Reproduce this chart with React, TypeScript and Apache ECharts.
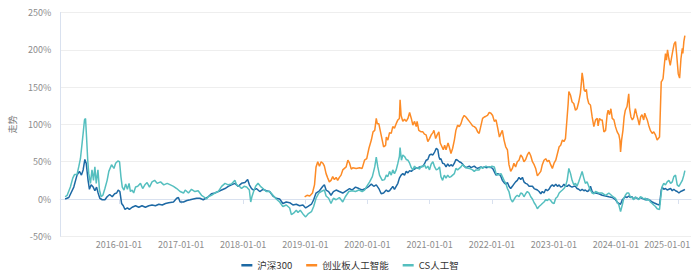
import React, { useEffect, useRef } from "react";
import * as echarts from "echarts";

const seriesNames = ["沪深300", "创业板人工智能", "CS人工智"];
const seriesColors = ["#1d69a4", "#fd8b26", "#55bfbf"];

const tickDates = [
  "2016-01-01", "2017-01-01", "2018-01-01", "2019-01-01", "2020-01-01",
  "2021-01-01", "2022-01-01", "2023-01-01", "2024-01-01", "2025-01-01",
];

const axisMinDate = "2015-01-21";
const axisMaxDate = "2025-03-17";

const hs300: [string, number][] = [
  ["2015-02-19", 0], ["2015-03-13", 2], ["2015-04-11", 16], ["2015-04-30", 32], ["2015-05-14", 37],
  ["2015-05-26", 32], ["2015-06-05", 39], ["2015-06-15", 53], ["2015-06-23", 48], ["2015-07-04", 25],
  ["2015-07-12", 13], ["2015-07-22", 19], ["2015-08-03", 16], ["2015-08-13", 11], ["2015-08-23", 16],
  ["2015-09-01", 8], ["2015-09-11", 1], ["2015-09-25", -1], ["2015-10-11", -1], ["2015-10-24", 3],
  ["2015-11-08", 6], ["2015-11-23", 3], ["2015-12-07", 7], ["2015-12-19", 8], ["2015-12-28", 12],
  ["2016-01-07", 10], ["2016-01-17", -6], ["2016-01-27", -9], ["2016-02-06", -14], ["2016-02-20", -12],
  ["2016-03-03", -14], ["2016-03-19", -11], ["2016-04-08", -9], ["2016-04-27", -11], ["2016-05-16", -9],
  ["2016-06-05", -11], ["2016-06-25", -9], ["2016-07-14", -8], ["2016-08-03", -9], ["2016-08-23", -7],
  ["2016-09-12", -8], ["2016-10-01", -6], ["2016-10-20", -5], ["2016-11-17", -4], ["2016-12-06", 1],
  ["2016-12-16", 2], ["2016-12-26", -4], ["2017-01-15", -4], ["2017-02-04", -2], ["2017-02-23", -1],
  ["2017-03-13", 0], ["2017-04-02", 1], ["2017-04-21", 1], ["2017-05-11", -1], ["2017-05-26", 1],
  ["2017-06-09", 3], ["2017-06-28", 7], ["2017-07-18", 8], ["2017-08-07", 10], ["2017-08-27", 12],
  ["2017-09-16", 14], ["2017-10-05", 17], ["2017-10-24", 19], ["2017-11-13", 21], ["2017-12-03", 17],
  ["2017-12-22", 21], ["2018-01-11", 22], ["2018-01-27", 26], ["2018-02-06", 19], ["2018-02-19", 14],
  ["2018-03-03", 12], ["2018-03-19", 14], ["2018-04-08", 10], ["2018-04-27", 13], ["2018-05-16", 11],
  ["2018-06-05", 10], ["2018-06-25", 4], ["2018-07-14", 1], ["2018-08-03", 0], ["2018-08-22", -6],
  ["2018-09-11", -4], ["2018-10-01", -5], ["2018-10-20", -8], ["2018-11-09", -7], ["2018-11-28", -9],
  ["2018-12-18", -8], ["2019-01-03", -12], ["2019-01-17", -10], ["2019-02-06", -7], ["2019-02-19", -1],
  ["2019-03-05", 8], ["2019-03-25", 11], ["2019-04-14", 17], ["2019-04-23", 19], ["2019-05-03", 12],
  ["2019-05-18", 10], ["2019-06-01", 5], ["2019-06-15", 10], ["2019-07-01", 12], ["2019-07-20", 10],
  ["2019-08-09", 8], ["2019-08-29", 11], ["2019-09-18", 14], ["2019-10-03", 12], ["2019-10-23", 16],
  ["2019-11-12", 14], ["2019-12-01", 12], ["2019-12-21", 14], ["2020-01-10", 17], ["2020-01-24", 20],
  ["2020-02-07", 17], ["2020-02-22", 19], ["2020-03-08", 14], ["2020-03-22", 7], ["2020-04-05", 8],
  ["2020-04-21", 12], ["2020-04-30", 10], ["2020-05-10", 11], ["2020-05-20", 14], ["2020-05-29", 17],
  ["2020-06-08", 13], ["2020-06-18", 17], ["2020-06-28", 21], ["2020-07-07", 28], ["2020-07-17", 32],
  ["2020-07-27", 34], ["2020-08-06", 32], ["2020-08-16", 37], ["2020-08-26", 35], ["2020-09-05", 38],
  ["2020-09-15", 37], ["2020-09-24", 39], ["2020-10-04", 40], ["2020-10-14", 42], ["2020-10-23", 41],
  ["2020-11-02", 43], ["2020-11-12", 43], ["2020-11-22", 44], ["2020-12-01", 47], ["2020-12-11", 52],
  ["2020-12-21", 53], ["2020-12-31", 59], ["2021-01-10", 60], ["2021-01-20", 59], ["2021-01-30", 63],
  ["2021-02-09", 68], ["2021-02-18", 66], ["2021-02-24", 57], ["2021-03-02", 53], ["2021-03-08", 54],
  ["2021-03-18", 48], ["2021-03-28", 47], ["2021-04-07", 43], ["2021-04-17", 47], ["2021-04-27", 44],
  ["2021-05-06", 46], ["2021-05-16", 44], ["2021-05-26", 48], ["2021-06-04", 53], ["2021-06-14", 52],
  ["2021-06-24", 50], ["2021-07-04", 49], ["2021-07-13", 47], ["2021-07-23", 44], ["2021-08-02", 42],
  ["2021-08-12", 43], ["2021-08-22", 44], ["2021-09-01", 42], ["2021-09-10", 43], ["2021-09-20", 44],
  ["2021-09-30", 42], ["2021-10-10", 41], ["2021-10-19", 42], ["2021-10-29", 43], ["2021-11-08", 42],
  ["2021-11-18", 43], ["2021-11-28", 42], ["2021-12-17", 43], ["2022-01-06", 41], ["2022-01-26", 32],
  ["2022-02-05", 34], ["2022-02-15", 33], ["2022-02-24", 30], ["2022-03-04", 25], ["2022-03-14", 22],
  ["2022-03-24", 20], ["2022-04-03", 22], ["2022-04-12", 17], ["2022-04-22", 14], ["2022-05-02", 17],
  ["2022-05-11", 20], ["2022-05-21", 23], ["2022-05-31", 25], ["2022-06-10", 29], ["2022-06-20", 26],
  ["2022-06-30", 29], ["2022-07-09", 23], ["2022-07-19", 21], ["2022-07-29", 20], ["2022-08-08", 17],
  ["2022-08-18", 17], ["2022-08-28", 17], ["2022-09-07", 14], ["2022-09-16", 13], ["2022-09-26", 12],
  ["2022-10-06", 10], ["2022-10-16", 7], ["2022-10-25", 10], ["2022-11-04", 8], ["2022-11-14", 13],
  ["2022-11-24", 11], ["2022-12-03", 13], ["2022-12-13", 17], ["2022-12-23", 19], ["2023-01-02", 17],
  ["2023-01-12", 20], ["2023-01-22", 17], ["2023-02-01", 19], ["2023-02-10", 16], ["2023-02-20", 17],
  ["2023-03-01", 20], ["2023-03-10", 17], ["2023-03-20", 17], ["2023-03-30", 19], ["2023-04-09", 17],
  ["2023-04-18", 16], ["2023-04-28", 17], ["2023-05-08", 17], ["2023-05-17", 14], ["2023-05-27", 13],
  ["2023-06-06", 11], ["2023-06-16", 13], ["2023-06-26", 11], ["2023-07-05", 12], ["2023-07-15", 10],
  ["2023-07-25", 11], ["2023-08-04", 17], ["2023-08-14", 10], ["2023-08-24", 8], ["2023-09-03", 8],
  ["2023-09-22", 7], ["2023-10-12", 5], ["2023-11-01", 4], ["2023-11-20", 3], ["2023-12-10", 2],
  ["2023-12-29", -1], ["2024-01-08", -4], ["2024-01-18", -6], ["2024-01-28", -7], ["2024-02-07", -1],
  ["2024-02-16", 1], ["2024-02-25", 3], ["2024-03-06", 2], ["2024-03-16", 4], ["2024-03-25", 2],
  ["2024-04-04", 3], ["2024-04-14", 0], ["2024-04-24", 2], ["2024-05-04", 1], ["2024-05-14", 0],
  ["2024-05-23", 2], ["2024-06-02", 1], ["2024-06-12", 0], ["2024-06-22", -1], ["2024-07-01", 0],
  ["2024-07-11", -1], ["2024-07-21", -2], ["2024-08-01", -4], ["2024-08-10", -5], ["2024-08-20", -6],
  ["2024-08-30", -7], ["2024-09-13", -8], ["2024-09-23", 12], ["2024-09-29", 16], ["2024-10-08", 13],
  ["2024-10-18", 14], ["2024-10-28", 12], ["2024-11-07", 13], ["2024-11-17", 14], ["2024-11-27", 11],
  ["2024-12-06", 13], ["2024-12-16", 11], ["2024-12-26", 10], ["2025-01-05", 8], ["2025-01-15", 10],
  ["2025-01-25", 11], ["2025-02-03", 12], ["2025-02-09", 13],
];

const cybAI: [string, number][] = [
  ["2018-12-28", 3], ["2019-01-11", 5], ["2019-01-27", 4], ["2019-02-12", 8], ["2019-02-24", 19],
  ["2019-03-05", 43], ["2019-03-15", 50], ["2019-03-25", 44], ["2019-04-04", 50], ["2019-04-14", 48],
  ["2019-04-23", 44], ["2019-05-03", 34], ["2019-05-13", 28], ["2019-05-22", 23], ["2019-06-01", 25],
  ["2019-06-11", 30], ["2019-06-21", 26], ["2019-07-01", 29], ["2019-07-10", 25], ["2019-07-20", 29],
  ["2019-07-30", 32], ["2019-08-09", 39], ["2019-08-19", 41], ["2019-08-29", 43], ["2019-09-08", 52],
  ["2019-09-18", 48], ["2019-09-28", 40], ["2019-10-07", 42], ["2019-10-27", 41], ["2019-11-16", 42],
  ["2019-12-01", 41], ["2019-12-15", 52], ["2019-12-28", 54], ["2020-01-10", 68], ["2020-01-24", 79],
  ["2020-02-03", 90], ["2020-02-13", 92], ["2020-02-22", 108], ["2020-02-28", 101], ["2020-03-08", 101],
  ["2020-03-16", 92], ["2020-03-28", 79], ["2020-04-05", 70], ["2020-04-17", 72], ["2020-04-21", 83],
  ["2020-04-30", 79], ["2020-05-10", 89], ["2020-05-20", 88], ["2020-05-29", 97], ["2020-06-08", 95],
  ["2020-06-18", 101], ["2020-06-28", 106], ["2020-07-07", 108], ["2020-07-11", 133], ["2020-07-17", 112],
  ["2020-07-27", 104], ["2020-08-06", 107], ["2020-08-16", 104], ["2020-08-26", 108], ["2020-09-05", 116],
  ["2020-09-15", 108], ["2020-09-24", 99], ["2020-10-04", 104], ["2020-10-14", 97], ["2020-10-19", 104],
  ["2020-10-29", 92], ["2020-11-12", 90], ["2020-11-22", 90], ["2020-12-01", 87], ["2020-12-11", 86],
  ["2020-12-21", 77], ["2020-12-31", 81], ["2021-01-10", 86], ["2021-01-20", 89], ["2021-01-26", 92],
  ["2021-02-05", 81], ["2021-02-14", 86], ["2021-02-24", 90], ["2021-03-04", 75], ["2021-03-14", 70],
  ["2021-03-22", 66], ["2021-03-30", 72], ["2021-04-07", 66], ["2021-04-19", 75], ["2021-04-27", 69],
  ["2021-05-06", 61], ["2021-05-16", 68], ["2021-05-26", 79], ["2021-06-04", 92], ["2021-06-14", 99],
  ["2021-06-24", 97], ["2021-07-04", 101], ["2021-07-13", 108], ["2021-07-23", 112], ["2021-08-02", 110],
  ["2021-08-12", 107], ["2021-08-22", 104], ["2021-09-01", 101], ["2021-09-10", 98], ["2021-09-20", 97],
  ["2021-09-30", 95], ["2021-10-10", 90], ["2021-10-19", 88], ["2021-10-29", 98], ["2021-11-08", 108],
  ["2021-11-18", 110], ["2021-11-28", 111], ["2021-12-07", 112], ["2021-12-17", 116], ["2021-12-27", 115],
  ["2022-01-06", 112], ["2022-01-16", 104], ["2022-01-26", 106], ["2022-02-05", 95], ["2022-02-15", 83],
  ["2022-02-24", 88], ["2022-03-04", 92], ["2022-03-14", 79], ["2022-03-24", 70], ["2022-04-03", 66],
  ["2022-04-12", 46], ["2022-04-22", 37], ["2022-05-02", 41], ["2022-05-11", 48], ["2022-05-21", 43],
  ["2022-05-31", 50], ["2022-06-10", 52], ["2022-06-20", 59], ["2022-06-30", 56], ["2022-07-09", 50],
  ["2022-07-19", 53], ["2022-07-29", 59], ["2022-08-08", 63], ["2022-08-18", 58], ["2022-08-28", 50],
  ["2022-09-07", 46], ["2022-09-16", 41], ["2022-09-26", 31], ["2022-10-06", 34], ["2022-10-16", 37],
  ["2022-10-25", 46], ["2022-11-04", 52], ["2022-11-14", 54], ["2022-11-24", 50], ["2022-12-03", 52],
  ["2022-12-13", 46], ["2022-12-23", 41], ["2023-01-02", 48], ["2023-01-12", 52], ["2023-01-22", 61],
  ["2023-02-01", 70], ["2023-02-10", 72], ["2023-02-20", 79], ["2023-03-01", 77], ["2023-03-10", 81],
  ["2023-03-20", 110], ["2023-03-26", 128], ["2023-03-30", 144], ["2023-04-09", 139], ["2023-04-18", 130],
  ["2023-04-28", 128], ["2023-05-08", 119], ["2023-05-17", 121], ["2023-05-27", 130], ["2023-06-06", 142],
  ["2023-06-12", 157], ["2023-06-16", 169], ["2023-06-22", 160], ["2023-06-28", 146], ["2023-07-05", 144],
  ["2023-07-11", 147], ["2023-07-17", 135], ["2023-07-25", 128], ["2023-08-04", 126], ["2023-08-14", 110],
  ["2023-08-24", 97], ["2023-09-03", 106], ["2023-09-13", 108], ["2023-09-18", 98], ["2023-09-26", 108],
  ["2023-10-04", 106], ["2023-10-12", 106], ["2023-10-22", 90], ["2023-11-01", 92], ["2023-11-10", 113],
  ["2023-11-16", 119], ["2023-11-24", 113], ["2023-12-02", 121], ["2023-12-10", 108], ["2023-12-20", 106],
  ["2023-12-29", 97], ["2024-01-08", 90], ["2024-01-18", 86], ["2024-01-24", 79], ["2024-01-28", 63],
  ["2024-02-03", 79], ["2024-02-11", 92], ["2024-02-18", 110], ["2024-02-25", 119], ["2024-03-06", 124],
  ["2024-03-16", 141], ["2024-03-21", 121], ["2024-03-29", 110], ["2024-04-06", 106], ["2024-04-14", 109],
  ["2024-04-24", 121], ["2024-05-02", 113], ["2024-05-10", 106], ["2024-05-17", 99], ["2024-05-25", 110],
  ["2024-06-02", 113], ["2024-06-12", 106], ["2024-06-18", 115], ["2024-06-26", 110], ["2024-07-03", 106],
  ["2024-07-11", 99], ["2024-07-21", 92], ["2024-08-01", 88], ["2024-08-10", 90], ["2024-08-20", 86],
  ["2024-08-30", 79], ["2024-09-13", 83], ["2024-09-23", 157], ["2024-09-29", 159], ["2024-10-04", 162],
  ["2024-10-10", 177], ["2024-10-18", 195], ["2024-10-24", 186], ["2024-10-30", 200], ["2024-11-07", 188],
  ["2024-11-15", 179], ["2024-11-23", 190], ["2024-12-01", 200], ["2024-12-08", 208], ["2024-12-16", 211],
  ["2024-12-24", 190], ["2025-01-01", 168], ["2025-01-09", 162], ["2025-01-17", 188], ["2025-01-25", 202],
  ["2025-01-28", 195], ["2025-02-03", 211], ["2025-02-09", 219],
];

const csAI: [string, number][] = [
  ["2015-02-19", 3], ["2015-03-03", 5], ["2015-03-22", 16], ["2015-04-05", 28], ["2015-04-16", 33],
  ["2015-04-30", 33], ["2015-05-10", 43], ["2015-05-20", 54], ["2015-05-30", 75], ["2015-06-05", 88],
  ["2015-06-13", 106], ["2015-06-19", 108], ["2015-06-25", 83], ["2015-07-02", 52], ["2015-07-08", 34],
  ["2015-07-18", 21], ["2015-07-27", 39], ["2015-08-05", 25], ["2015-08-13", 43], ["2015-08-21", 21],
  ["2015-08-31", 39], ["2015-09-09", 12], ["2015-09-19", 3], ["2015-09-29", 5], ["2015-10-11", 14],
  ["2015-10-24", 25], ["2015-11-03", 37], ["2015-11-19", 46], ["2015-12-03", 41], ["2015-12-13", 48],
  ["2015-12-26", 51], ["2016-01-05", 50], ["2016-01-13", 30], ["2016-01-21", 16], ["2016-01-31", 12],
  ["2016-02-10", 20], ["2016-02-20", 13], ["2016-03-01", 21], ["2016-03-09", 10], ["2016-03-19", 12],
  ["2016-03-28", 8], ["2016-04-08", 16], ["2016-04-21", 17], ["2016-05-07", 21], ["2016-05-20", 14],
  ["2016-06-02", 19], ["2016-06-15", 22], ["2016-06-29", 16], ["2016-07-14", 23], ["2016-07-29", 25],
  ["2016-08-13", 21], ["2016-09-02", 23], ["2016-09-21", 19], ["2016-10-11", 21], ["2016-10-30", 19],
  ["2016-11-17", 17], ["2016-12-06", 14], ["2016-12-26", 10], ["2017-01-15", 8], ["2017-01-25", 12],
  ["2017-02-13", 8], ["2017-03-03", 13], ["2017-03-23", 10], ["2017-04-11", 11], ["2017-05-01", 5],
  ["2017-05-20", 2], ["2017-05-30", 0], ["2017-06-09", 3], ["2017-06-28", 5], ["2017-07-18", 8],
  ["2017-08-07", 10], ["2017-08-27", 17], ["2017-09-16", 21], ["2017-10-05", 19], ["2017-10-24", 20],
  ["2017-11-13", 25], ["2017-11-23", 19], ["2017-12-09", 17], ["2017-12-22", 14], ["2018-01-06", 17],
  ["2018-01-21", 16], ["2018-02-06", 12], ["2018-02-14", -4], ["2018-02-21", 3], ["2018-03-03", 10],
  ["2018-03-15", 17], ["2018-03-29", 21], ["2018-04-12", 17], ["2018-04-27", 14], ["2018-05-16", 10],
  ["2018-06-05", 10], ["2018-06-25", 5], ["2018-07-14", 0], ["2018-08-03", -4], ["2018-08-22", -10],
  ["2018-09-11", -8], ["2018-10-01", -12], ["2018-10-11", -21], ["2018-10-24", -19], ["2018-11-09", -15],
  ["2018-11-19", -18], ["2018-12-02", -15], ["2018-12-18", -20], ["2019-01-03", -24], ["2019-01-17", -20],
  ["2019-02-06", -17], ["2019-02-19", -10], ["2019-03-05", 1], ["2019-03-21", 8], ["2019-04-04", 10],
  ["2019-04-23", 12], ["2019-05-03", 4], ["2019-05-18", 1], ["2019-06-01", -6], ["2019-06-15", 1],
  ["2019-07-01", -1], ["2019-07-20", 2], ["2019-08-09", -4], ["2019-08-24", 3], ["2019-09-14", 10],
  ["2019-10-03", 11], ["2019-10-23", 10], ["2019-11-12", 12], ["2019-12-01", 10], ["2019-12-15", 12],
  ["2019-12-28", 17], ["2020-01-14", 23], ["2020-01-30", 30], ["2020-02-13", 43], ["2020-02-22", 56],
  ["2020-03-02", 43], ["2020-03-12", 32], ["2020-03-28", 25], ["2020-04-11", 26], ["2020-04-21", 32],
  ["2020-04-30", 30], ["2020-05-10", 37], ["2020-05-20", 32], ["2020-05-29", 39], ["2020-06-08", 34],
  ["2020-06-18", 39], ["2020-06-28", 48], ["2020-07-07", 57], ["2020-07-11", 69], ["2020-07-19", 52],
  ["2020-07-27", 59], ["2020-08-06", 57], ["2020-08-16", 53], ["2020-08-26", 52], ["2020-09-05", 48],
  ["2020-09-15", 42], ["2020-09-24", 39], ["2020-10-04", 44], ["2020-10-14", 41], ["2020-10-23", 42],
  ["2020-11-02", 40], ["2020-11-12", 44], ["2020-11-22", 43], ["2020-12-01", 46], ["2020-12-11", 41],
  ["2020-12-21", 44], ["2020-12-31", 39], ["2021-01-10", 47], ["2021-01-20", 50], ["2021-01-30", 43],
  ["2021-02-09", 39], ["2021-02-18", 40], ["2021-02-28", 43], ["2021-03-08", 30], ["2021-03-18", 25],
  ["2021-03-28", 32], ["2021-04-07", 28], ["2021-04-17", 32], ["2021-04-27", 29], ["2021-05-06", 30],
  ["2021-05-16", 32], ["2021-05-26", 34], ["2021-06-04", 41], ["2021-06-14", 39], ["2021-06-24", 41],
  ["2021-07-04", 43], ["2021-07-13", 46], ["2021-08-02", 42], ["2021-08-22", 41], ["2021-09-10", 39],
  ["2021-09-20", 37], ["2021-09-30", 39], ["2021-10-19", 39], ["2021-10-29", 43], ["2021-11-08", 41],
  ["2021-11-28", 44], ["2021-12-17", 42], ["2022-01-02", 44], ["2022-01-16", 43], ["2022-01-26", 34],
  ["2022-02-05", 32], ["2022-02-15", 33], ["2022-02-24", 34], ["2022-03-04", 30], ["2022-03-14", 25],
  ["2022-03-24", 21], ["2022-04-03", 14], ["2022-04-12", 10], ["2022-04-22", 0], ["2022-05-02", -4],
  ["2022-05-11", -1], ["2022-05-21", 3], ["2022-05-31", 5], ["2022-06-10", 3], ["2022-06-20", 8],
  ["2022-06-30", 7], ["2022-07-09", 3], ["2022-07-19", 7], ["2022-07-29", 10], ["2022-08-08", 8],
  ["2022-08-18", 3], ["2022-08-28", 0], ["2022-09-07", -5], ["2022-09-16", -8], ["2022-09-26", -13],
  ["2022-10-06", -10], ["2022-10-16", -8], ["2022-10-25", -6], ["2022-11-04", -4], ["2022-11-14", -1],
  ["2022-11-24", -2], ["2022-12-03", 0], ["2022-12-13", -2], ["2022-12-23", -5], ["2023-01-02", -6],
  ["2023-01-12", 1], ["2023-01-22", 3], ["2023-02-01", 8], ["2023-02-10", 10], ["2023-02-20", 12],
  ["2023-03-01", 14], ["2023-03-10", 17], ["2023-03-20", 25], ["2023-03-30", 41], ["2023-04-09", 34],
  ["2023-04-18", 25], ["2023-04-28", 19], ["2023-05-08", 21], ["2023-05-17", 17], ["2023-05-27", 23],
  ["2023-06-06", 30], ["2023-06-16", 37], ["2023-06-26", 28], ["2023-07-05", 21], ["2023-07-15", 23],
  ["2023-07-25", 17], ["2023-08-04", 12], ["2023-08-14", 8], ["2023-08-24", 7], ["2023-09-03", 10],
  ["2023-09-22", 8], ["2023-10-12", 8], ["2023-11-01", 5], ["2023-11-20", 8], ["2023-12-10", 4],
  ["2023-12-29", 1], ["2024-01-08", -4], ["2024-01-18", -8], ["2024-01-28", -17], ["2024-02-07", -8],
  ["2024-02-16", 1], ["2024-02-25", 5], ["2024-03-06", 8], ["2024-03-16", 8], ["2024-03-25", 3],
  ["2024-04-04", 2], ["2024-04-14", -1], ["2024-04-24", 3], ["2024-05-04", 1], ["2024-05-14", -1],
  ["2024-05-23", 3], ["2024-06-02", 2], ["2024-06-12", 0], ["2024-06-22", 1], ["2024-07-01", -2],
  ["2024-07-11", 0], ["2024-07-21", -4], ["2024-08-01", -6], ["2024-08-10", -8], ["2024-08-20", -10],
  ["2024-08-30", -13], ["2024-09-13", -14], ["2024-09-23", 8], ["2024-09-29", 17], ["2024-10-08", 21],
  ["2024-10-18", 19], ["2024-10-28", 23], ["2024-11-07", 25], ["2024-11-17", 21], ["2024-11-27", 23],
  ["2024-12-06", 30], ["2024-12-16", 32], ["2024-12-26", 19], ["2025-01-05", 17], ["2025-01-15", 21],
  ["2025-01-25", 25], ["2025-02-03", 32], ["2025-02-09", 38],
];

const yMin = -50;
const yMax = 250;
const yStep = 50;

function toTime(s: string): number {
  const [y, m, d] = s.split("-").map(Number);
  return new Date(y, m - 1, d).getTime();
}

function pad2(n: number): string {
  return n < 10 ? "0" + n : String(n);
}

const LABEL_FONT = "'Noto Sans CJK SC', 'Noto Sans', sans-serif";

export default function App() {
  const ref = useRef<HTMLDivElement>(null);

  useEffect(() => {
    document.body.style.margin = "0";
    if (!ref.current) return;
    const chart = echarts.init(ref.current, undefined, { renderer: "svg" });
    const tickValues = tickDates.map(toTime);
    const lastTick = tickValues[tickValues.length - 1];
    const allData = [hs300, cybAI, csAI];

    chart.setOption({
      animation: false,
      backgroundColor: "#ffffff",
      grid: { left: 58, right: 9, top: 12.5, bottom: 41.7, containLabel: false },
      legend: {
        data: seriesNames,
        bottom: 3,
        left: "center",
        icon: "rect",
        itemWidth: 11,
        itemHeight: 2.5,
        itemGap: 14,
        textStyle: { fontSize: 9.5, color: "#333", fontFamily: LABEL_FONT },
      },
      xAxis: {
        type: "value",
        min: toTime(axisMinDate),
        max: toTime(axisMaxDate),
        axisLine: { show: true, lineStyle: { color: "#d9e1ef", width: 1 } },
        axisTick: { show: true, length: 5, customValues: tickValues, lineStyle: { color: "#d9e1ef" } },
        splitLine: { show: false },
        axisLabel: {
          customValues: tickValues,
          fontSize: 9,
          color: "#8c8c8c",
          fontFamily: LABEL_FONT,
          margin: 4,
          formatter: (val: number) => {
            const d = new Date(val);
            const s = `${d.getFullYear()}-${pad2(d.getMonth() + 1)}-${pad2(d.getDate())}`;
            return Math.abs(val - lastTick) < 86400000 ? `{last|${s}}` : s;
          },
          rich: {
            last: {
              fontSize: 9,
              color: "#8c8c8c",
              fontFamily: LABEL_FONT,
              padding: [0, 22, 0, 0],
            },
          },
        },
      },
      yAxis: {
        type: "value",
        min: yMin,
        max: yMax,
        interval: yStep,
        name: "走势",
        nameLocation: "middle",
        nameGap: 38,
        nameTextStyle: { fontSize: 9, color: "#777", fontFamily: LABEL_FONT },
        axisLine: { show: true, lineStyle: { color: "#d9e1ef", width: 1 } },
        axisTick: { show: false },
        axisLabel: {
          formatter: "{value}%",
          fontSize: 9,
          color: "#8c8c8c",
          fontFamily: LABEL_FONT,
          margin: 9,
        },
        splitLine: { show: true, lineStyle: { color: "#eeeeee", width: 1 } },
      },
      series: seriesNames.map((name, i) => ({
        name,
        type: "line",
        data: allData[i].map(([d, v]) => [toTime(d), v]),
        showSymbol: false,
        symbol: "none",
        lineStyle: { width: 1.5, color: seriesColors[i] },
        itemStyle: { color: seriesColors[i] },
        z: i === 1 ? 3 : 2,
      })),
    });

    return () => chart.dispose();
  }, []);

  return (
    <div
      ref={ref}
      style={{ position: "absolute", left: 0, top: 0, width: 700, height: 278 }}
    />
  );
}
